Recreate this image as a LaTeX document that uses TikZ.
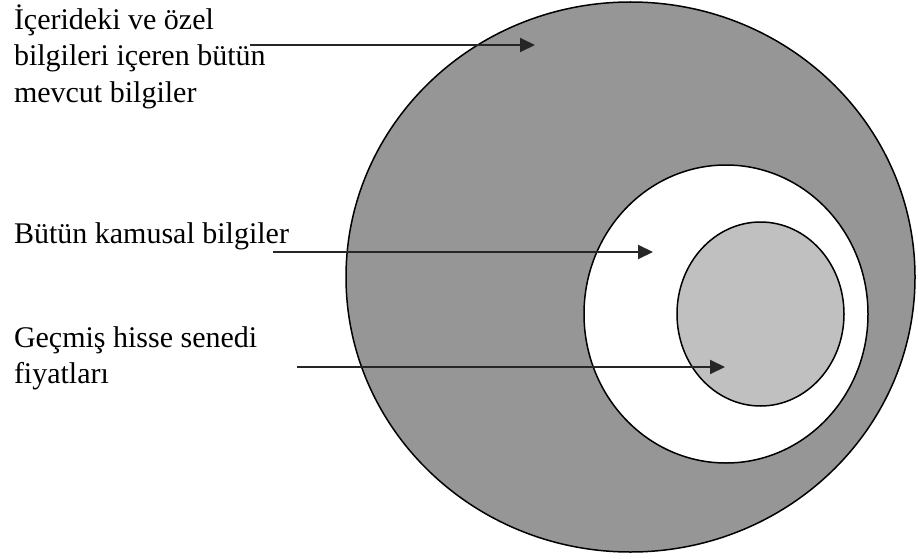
\documentclass[tikz,border=0pt]{standalone}
\usepackage{fontspec}
\setmainfont{Liberation Serif}
\usetikzlibrary{arrows.meta}
\definecolor{ringgrey}{HTML}{969696}
\definecolor{coregrey}{HTML}{C0C0C0}
\newcommand{\labellines}[1]{\vtop{\fontsize{30}{36}\selectfont\baselineskip=36.5pt #1}}
\begin{document}
\begin{tikzpicture}[x=1pt,y=-1pt,
  setshape/.style={draw=black,line width=1.5pt},
  labeltext/.style={anchor=base west,inner sep=0pt,outer sep=0pt},
  pointer/.style={draw=black!85,line width=2pt,-{Triangle[length=15pt,width=14pt]}}]
  \useasboundingbox (0,0) rectangle (918,559);
  \fill[white] (0,0) rectangle (918,559);

  % nested information sets
  \path[setshape,fill=ringgrey] (630.5,277) ellipse [x radius=284.5,y radius=275];
  \path[setshape,fill=white] (726,314) ellipse [x radius=142,y radius=149];
  \path[setshape,fill=coregrey] (760.5,314) ellipse [x radius=83.5,y radius=92];

  % labels
  \node[labeltext] (allinfo) at (14,29.5) {\labellines{\hbox{İçerideki ve özel}\hbox{bilgileri içeren bütün}\hbox{mevcut bilgiler}}};
  \node[labeltext] (public) at (14,243.5) {\labellines{\hbox{Bütün kamusal bilgiler}}};
  \node[labeltext] (prices) at (14,347) {\labellines{\hbox{Geçmiş hisse senedi}\hbox{fiyatları}}};

  % pointer ends
  \coordinate (allinfo-s) at (250,45);
  \coordinate (allinfo-e) at (535,45);
  \coordinate (public-s) at (273,252);
  \coordinate (public-e) at (653,252);
  \coordinate (prices-s) at (297,367);
  \coordinate (prices-e) at (725,367);

  \draw[pointer] (allinfo-s) -- (allinfo-e);
  \draw[pointer] (public-s) -- (public-e);
  \draw[pointer] (prices-s) -- (prices-e);
\end{tikzpicture}
\end{document}
